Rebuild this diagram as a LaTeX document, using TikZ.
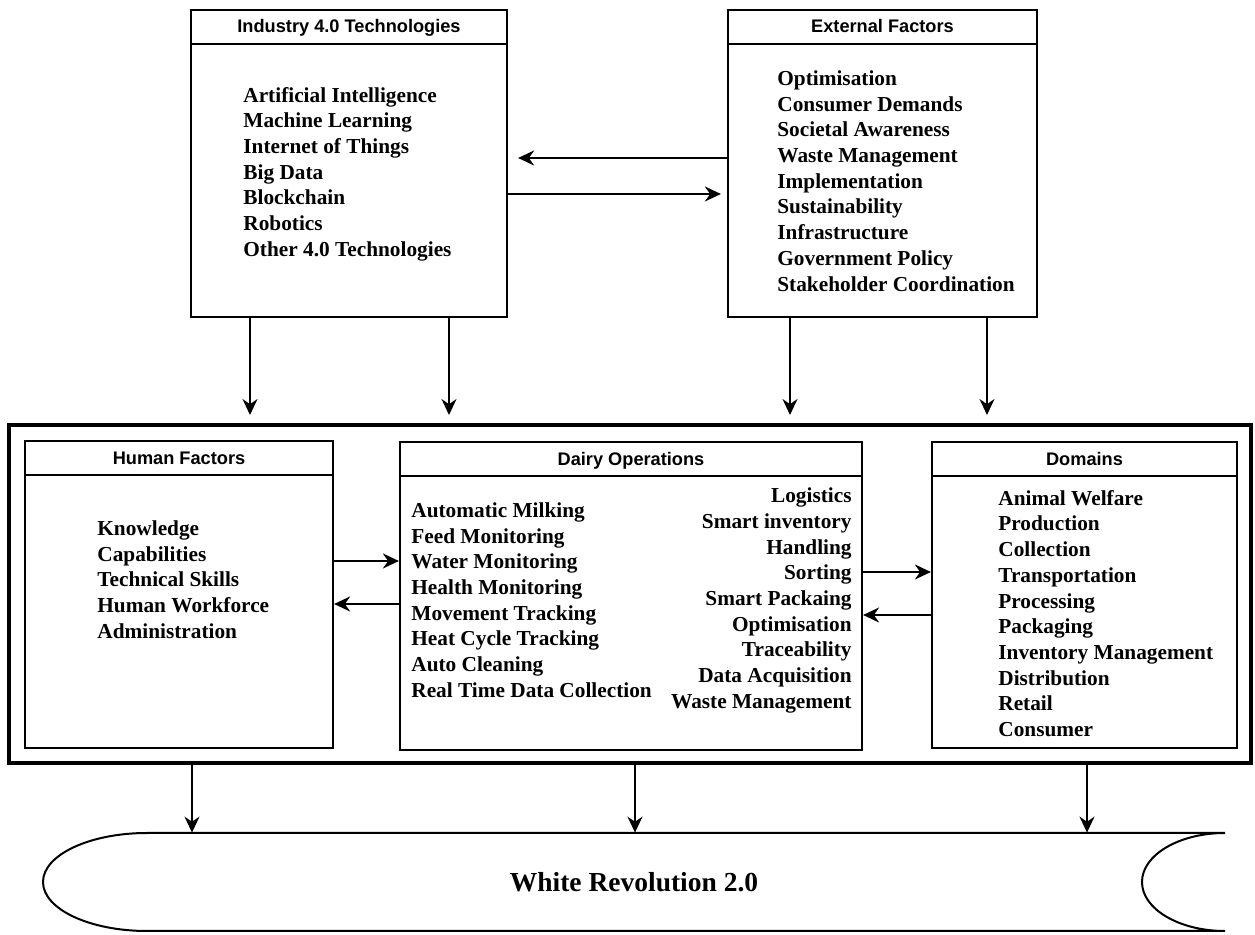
\documentclass[tikz,border=0pt]{standalone}
\usepackage{fontspec}
\setmainfont{Liberation Serif}
\setsansfont{Liberation Sans}
\usetikzlibrary{
  arrows.meta
  , calc
}

\begin{document}
\begin{tikzpicture}[x=0.5pt, y=-0.5pt]
      \tikzstyle{panel}=[draw, rectangle, line width=1.1pt, inner sep=0pt]
      \tikzstyle{head}=[font=\sffamily\bfseries\fontsize{9.1}{11}\selectfont, inner sep=0pt, anchor=base]
      \tikzstyle{items}=[font=\bfseries\fontsize{10.65}{12.85}\selectfont, inner sep=0pt]
      \tikzstyle{arr}=[line width=1pt, -{Stealth[length=8pt, width=7.5pt, inset=2.6pt]}]

      \useasboundingbox (0,0) rectangle (1255,935);

      % top row
      \node [panel, minimum width=158pt, minimum height=153.5pt] (T) at (349,163.5){};
      \node [panel, minimum width=154.5pt, minimum height=153.5pt] (E) at (882.5,163.5){};
      \draw [line width=1.1pt] ([yshift=-17.5pt]T.north west) -- ([yshift=-17.5pt]T.north east);
      \draw [line width=1.1pt] ([yshift=-17.5pt]E.north west) -- ([yshift=-17.5pt]E.north east);
      \node [head] (Th) at ([yshift=-12pt]T.north){Industry 4.0 Technologies};
      \node [head] (Eh) at ([yshift=-12pt]E.north){External Factors};

      \node [items, align=left, anchor=west] (Tl) at (243,174){Artificial Intelligence\\Machine Learning\\Internet of Things\\Big Data\\Blockchain\\Robotics\\Other 4.0 Technologies};
      \node [items, align=left, anchor=west] (El) at (777,181){Optimisation\\Consumer Demands\\Societal Awareness\\Waste Management\\Implementation\\Sustainability\\Infrastructure\\Government Policy\\Stakeholder Coordination};

      \draw [arr, shorten >=5pt] (E.west |- 0,158) -- (T.east |- 0,158);
      \draw [arr, shorten >=3pt] (T.east |- 0,194) -- (E.west |- 0,194);

      % operations block
      \node [panel, line width=2pt, minimum width=621pt, minimum height=169pt] (O) at (630,594){};
      \node [panel, minimum width=154pt, minimum height=153.5pt] (H) at (179,594.5){};
      \node [panel, minimum width=231pt, minimum height=154pt] (D) at (631,596){};
      \node [panel, minimum width=152.5pt, minimum height=153pt] (M) at (1084.5,595){};
      \draw [line width=1.1pt] ([yshift=-17.5pt]H.north west) -- ([yshift=-17.5pt]H.north east);
      \draw [line width=1.1pt] ([yshift=-17.5pt]D.north west) -- ([yshift=-17.5pt]D.north east);
      \draw [line width=1.1pt] ([yshift=-17.5pt]M.north west) -- ([yshift=-17.5pt]M.north east);
      \node [head] (Hh) at ([yshift=-12.25pt]H.north){Human Factors};
      \node [head] (Dh) at ([yshift=-12.25pt]D.north){Dairy Operations};
      \node [head] (Mh) at ([yshift=-12.25pt]M.north){Domains};

      \node [items, align=left, anchor=west] (Hl) at (97,579.5){Knowledge\\Capabilities\\Technical Skills\\Human Workforce\\Administration};
      \node [items, align=left, anchor=west] (Dl) at (411,600){Automatic Milking\\Feed Monitoring\\Water Monitoring\\Health Monitoring\\Movement Tracking\\Heat Cycle Tracking\\Auto Cleaning\\Real Time Data Collection};
      \node [items, align=right, anchor=east] (Dr) at (852,600.5){Logistics\\Smart inventory\\Handling\\Sorting\\Smart Packaing\\Optimisation\\Traceability\\Data Acquisition\\Waste Management};
      \node [items, align=left, anchor=west] (Ml) at (998,613.5){Animal Welfare\\Production\\Collection\\Transportation\\Processing\\Packaging\\Inventory Management\\Distribution\\Retail\\Consumer};

      \foreach \x in {250,449} \draw [arr, shorten >=4pt] (\x,0 |- T.south) -- (\x,0 |- O.north);
      \foreach \x in {790,987} \draw [arr, shorten >=4pt] (\x,0 |- E.south) -- (\x,0 |- O.north);

      \draw [arr] (H.east |- 0,561) -- (D.west |- 0,561);
      \draw [arr] (D.west |- 0,604) -- (H.east |- 0,604);
      \draw [arr] (D.east |- 0,572) -- (M.west |- 0,572);
      \draw [arr] (M.west |- 0,615) -- (D.east |- 0,615);

      % banner
      \node [minimum width=591pt, minimum height=49pt, inner sep=0pt, font=\bfseries\fontsize{13.75}{16}\selectfont] (W) at (634,882){White Revolution 2.0};
      \draw [line width=1pt] (147,833) -- (1225,833)
        arc [start angle=90, end angle=270, x radius=41.5pt, y radius=24.5pt]
        -- (147,931)
        arc [start angle=270, end angle=90, x radius=52pt, y radius=24.5pt] -- cycle;

      \foreach \x in {192,635,1087} \draw [arr, line width=0.75pt] (\x,0 |- O.south) -- (\x,0 |- W.north);

    \end{tikzpicture}
\end{document}
